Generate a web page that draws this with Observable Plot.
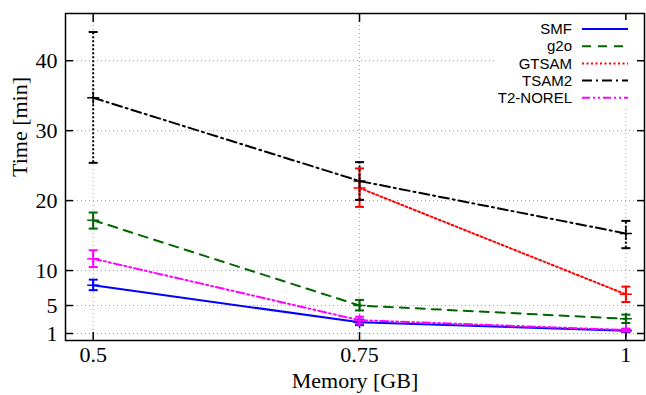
<!DOCTYPE html>
<html>
<head>
<meta charset="utf-8">
<script src="https://cdn.jsdelivr.net/npm/d3@7"></script>
<script src="https://cdn.jsdelivr.net/npm/@observablehq/plot@0.6"></script>
<style>
  html, body { margin: 0; padding: 0; background: #fff; }
  #chart svg { font-family: "Liberation Serif", "Times New Roman", serif; font-size: 22px; }
</style>
</head>
<body>
<div id="chart"></div>
<script>
// ---- data ----
const memory = [0.5, 0.75, 1];
const xTicks = [0.5, 0.75, 1];
const yTicks = [1, 5, 10, 20, 30, 40];
const seriesNames = ["SMF", "g2o", "GTSAM", "TSAM2", "T2-NOREL"];
const smfTime = [7.9, 2.6, 1.4];
const smfLo   = [7.2, 2.2, 1.2];
const smfHi   = [8.7, 3.0, 1.6];
const g2oTime = [17.2, 5.0, 3.1];
const g2oLo   = [16.0, 4.3, 2.5];
const g2oHi   = [18.3, 5.8, 3.7];
const gtsamTime = [null, 21.8, 6.6];
const gtsamLo   = [null, 19.1, 5.5];
const gtsamHi   = [null, 24.6, 7.7];
const tsam2Time = [34.7, 22.8, 15.3];
const tsam2Lo   = [25.4, 20.1, 13.2];
const tsam2Hi   = [44.1, 25.5, 17.1];
const norelTime = [11.7, 2.9, 1.5];
const norelLo   = [10.5, 2.4, 1.3];
const norelHi   = [12.9, 3.4, 1.7];

const colors = ["#0000ff", "#006400", "#ff0000", "#000000", "#ff00ff"];
const dashes = [null, "9,7", "2,2.5", "10,4,2,4", "8,3,2,3,2,3"];
const errDashes = [null, null, null, "2,2", null];

const seriesData = [
  [smfTime, smfLo, smfHi],
  [g2oTime, g2oLo, g2oHi],
  [gtsamTime, gtsamLo, gtsamHi],
  [tsam2Time, tsam2Lo, tsam2Hi],
  [norelTime, norelLo, norelHi]
];

const rowsFor = (k) => memory.map((m, i) => ({
  memory: m,
  time: seriesData[k][0][i],
  lo: seriesData[k][1][i],
  hi: seriesData[k][2][i]
})).filter(d => d.time != null);

const plusSymbol = {
  draw(ctx, size) {
    const r = Math.sqrt(size / Math.PI);
    ctx.moveTo(-r, 0); ctx.lineTo(r, 0);
    ctx.moveTo(0, -r); ctx.lineTo(0, r);
  }
};
const capSymbol = {
  draw(ctx, size) {
    const r = Math.sqrt(size / Math.PI);
    ctx.moveTo(-r, 0); ctx.lineTo(r, 0);
  }
};

const serif = "'Liberation Serif', 'Times New Roman', serif";

const marks = [
  Plot.gridY(yTicks, {stroke: "#a0a0a0", strokeOpacity: 1, strokeDasharray: "1,3"}),
  Plot.gridX(xTicks, {stroke: "#a0a0a0", strokeOpacity: 1, strokeDasharray: "1,3"}),
];

seriesNames.forEach((name, k) => {
  const rows = rowsFor(k);
  marks.push(Plot.line(rows, {x: "memory", y: "time", stroke: colors[k], strokeWidth: 2, strokeDasharray: dashes[k]}));
  marks.push(Plot.ruleX(rows, {x: "memory", y1: "lo", y2: "hi", stroke: colors[k], strokeWidth: 2, strokeDasharray: errDashes[k]}));
  marks.push(Plot.dot(rows, {x: "memory", y: "lo", symbol: capSymbol, r: 4.5, stroke: colors[k], strokeWidth: 2, fill: "none"}));
  marks.push(Plot.dot(rows, {x: "memory", y: "hi", symbol: capSymbol, r: 4.5, stroke: colors[k], strokeWidth: 2, fill: "none"}));
  marks.push(Plot.dot(rows, {x: "memory", y: "time", symbol: plusSymbol, r: 6, stroke: colors[k], strokeWidth: 1.5, fill: "none"}));
});

marks.push(
  Plot.axisY(yTicks, {anchor: "left", tickSize: 0, tickPadding: 8, label: null, fontFamily: serif, fontSize: 22}),
  Plot.axisX(xTicks, {anchor: "bottom", tickSize: 0, tickPadding: 6, label: null, tickFormat: d => String(d), fontFamily: serif, fontSize: 22}),
  Plot.axisY(yTicks, {anchor: "left", tickSize: 8, dx: 8, text: null, label: null, stroke: "black", strokeWidth: 1.5}),
  Plot.axisY(yTicks, {anchor: "right", tickSize: 8, dx: -8, text: null, label: null, stroke: "black", strokeWidth: 1.5}),
  Plot.axisX(xTicks, {anchor: "bottom", tickSize: 8, dy: -8, text: null, label: null, stroke: "black", strokeWidth: 1.5}),
  Plot.axisX(xTicks, {anchor: "top", tickSize: 8, dy: 8, text: null, label: null, stroke: "black", strokeWidth: 1.5}),
  Plot.text(["Memory [GB]"], {frameAnchor: "bottom", dy: 47, text: d => d, fontSize: 22, fontFamily: serif}),
  Plot.text(["Time [min]"], {frameAnchor: "left", dx: -46, rotate: -90, text: d => d, fontSize: 22, fontFamily: serif}),
  Plot.frame({stroke: "black", strokeWidth: 1.5})
);

const svg = Plot.plot({
  width: 646,
  height: 395,
  marginLeft: 65,
  marginRight: 2,
  marginTop: 13,
  marginBottom: 55,
  style: {fontFamily: serif, fontSize: "22px", color: "black", background: "white"},
  x: {domain: [0.474, 1.0175]},
  y: {domain: [0, 46.75]},
  marks
});

// legend (opaque box inside the plot, top-right)
const g = d3.select(svg).append("g").attr("class", "legend");
g.append("rect").attr("x", 495).attr("y", 20).attr("width", 140).attr("height", 88).attr("fill", "white");
seriesNames.forEach((name, k) => {
  const y = 29 + 17.2 * k;
  g.append("text")
    .attr("x", 572).attr("y", y).attr("dy", "0.35em")
    .attr("text-anchor", "end")
    .style("font-family", "'Liberation Sans', Arial, sans-serif")
    .style("font-size", "15px")
    .attr("fill", "black")
    .text(name);
  g.append("line")
    .attr("x1", 582).attr("x2", 628).attr("y1", y).attr("y2", y)
    .attr("stroke", colors[k]).attr("stroke-width", 2)
    .attr("stroke-dasharray", dashes[k]);
});

document.getElementById("chart").appendChild(svg);
</script>
</body>
</html>
